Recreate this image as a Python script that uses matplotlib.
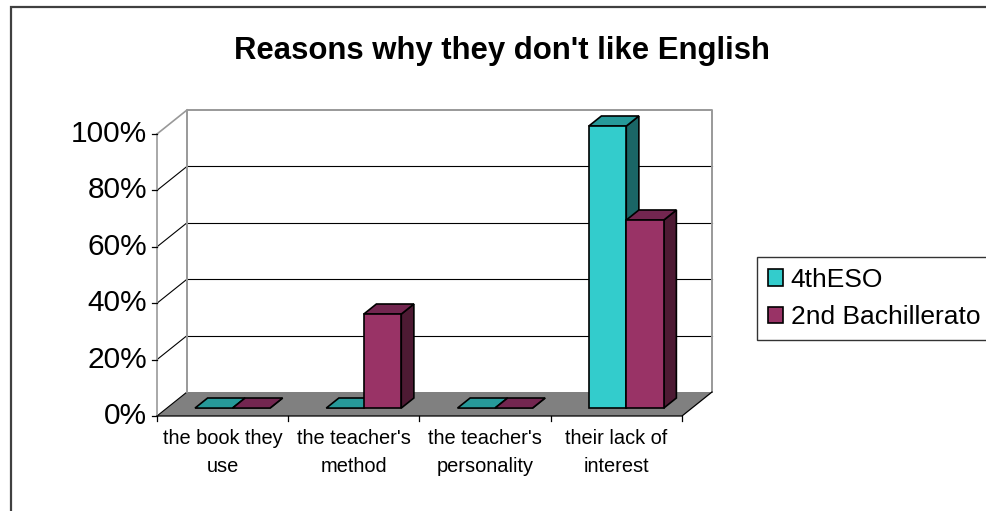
import numpy as np
import matplotlib
matplotlib.use('Agg')
from matplotlib import pyplot as plt
from matplotlib.patches import Polygon, Rectangle, Patch

plt.rcParams['font.family'] = ['Liberation Sans', 'DejaVu Sans']

categories = ["the book they\nuse", "the teacher's\nmethod", "the teacher's\npersonality", "their lack of\ninterest"]
series_names = ['4thESO', '2nd Bachillerato']
eso_vals = [0, 0, 0, 100]
bach_vals = [0, 33.33, 0, 66.67]
yticks = [0, 20, 40, 60, 80, 100]
ytick_labels = ['0%', '20%', '40%', '60%', '80%', '100%']

# colours: front, top, side
COLS = [('#33CCCC', '#269999', '#1A6666'), ('#993366', '#732650', '#4D1A33')]

W, H = 987, 511
fig = plt.figure(figsize=(W/100, H/100), dpi=100)
ax = fig.add_axes([0, 0, 1, 1])

# pixel layout of the front plane -> data scale
X0, CW = 157, 131.25      # px of category 0, px per category
Y0, VS = 416, 2.82        # px of 0%, px per percent
ax.set_xlim(-X0/CW, (W-X0)/CW)
ax.set_ylim((Y0-H)/VS, Y0/VS)
ax.axis('off')

DX, DY = 30/CW, 24/VS     # full depth of the floor
F0, F1 = 0.33, 0.75       # bar depth range
n = len(categories)
GRAY = '#999999'

###########walls / floor###########
ax.add_patch(Polygon([(0, 0), (n, 0), (n+DX, DY), (DX, DY)], closed=True,
                     facecolor='#808080', edgecolor='none', zorder=1))
for v in yticks[1:-1]:
    ax.plot([DX, n+DX], [v+DY, v+DY], color='black', lw=0.8, zorder=1)
for v in yticks[:-1]:
    ax.plot([0, DX], [v, v+DY], color='black', lw=0.8, zorder=1)
ax.plot([0, DX], [100, 100+DY], color=GRAY, lw=1.2, zorder=1)
ax.plot([DX, DX, n+DX, n+DX], [DY, 100+DY, 100+DY, DY], color=GRAY, lw=1.4, zorder=1)
ax.plot([0, 0], [0, 100], color=GRAY, lw=1.2, zorder=1)
ax.plot([0, n, n+DX], [0, 0, DY], color='black', lw=0.9, zorder=2)

# ticks
tl_x = 5/CW
tl_y = 5/VS
for v, lab in zip(yticks, ytick_labels):
    ax.plot([-tl_x, 0], [v, v], color='black', lw=0.9, zorder=2)
    ax.text(-10/CW, v, lab, ha='right', va='center', fontsize=21.5)
for i in range(n+1):
    ax.plot([i, i], [0, -tl_y], color='black', lw=0.9, zorder=2)
for i, c in enumerate(categories):
    ax.text(i+0.5, -4.6, c, ha='center', va='top', fontsize=14.4, linespacing=1.6)

###########bars###########
bw = 1/3.5
ox, oy = F0*DX, F0*DY
ddx, ddy = (F1-F0)*DX, (F1-F0)*DY
z = 3
for i in range(n):
    for j, vals in enumerate([eso_vals, bach_vals]):
        h = vals[i]
        x0 = i + 0.75/3.5 + j*bw + ox
        x1 = x0 + bw
        b = oy
        t = oy + h
        front, top, side = COLS[j]
        ax.add_patch(Polygon([(x1, b), (x1+ddx, b+ddy), (x1+ddx, t+ddy), (x1, t)],
                             closed=True, facecolor=side, edgecolor='black', lw=1.2, zorder=z))
        ax.add_patch(Polygon([(x0, t), (x1, t), (x1+ddx, t+ddy), (x0+ddx, t+ddy)],
                             closed=True, facecolor=top, edgecolor='black', lw=1.2, zorder=z))
        if h > 0:
            ax.add_patch(Rectangle((x0, b), bw, h, facecolor=front, edgecolor='black',
                                   lw=1.2, zorder=z))
        z += 1

###########title / legend / border###########
fig.text(502/W, 1-51/H, "Reasons why they don't like English", ha='center', va='center',
         fontsize=22.4, fontweight='bold')

handles = [Patch(facecolor=COLS[k][0], edgecolor='black', lw=1.2) for k in range(2)]
leg = fig.legend(handles, series_names, loc='upper left', bbox_to_anchor=(757/W, 1-257/H),
                 fontsize=19, frameon=True, fancybox=False, borderaxespad=0,
                 handlelength=0.6, handleheight=0.6, handletextpad=0.27,
                 borderpad=0.4, labelspacing=0.52)
leg.get_frame().set_edgecolor('black')
leg.get_frame().set_linewidth(1.0)

fig.add_artist(Rectangle((11/W, -0.1), 2.0, 1.1-7/H, transform=fig.transFigure,
                         fill=False, edgecolor='#404040', lw=1.6))

fig.savefig('out.png', dpi=100)
